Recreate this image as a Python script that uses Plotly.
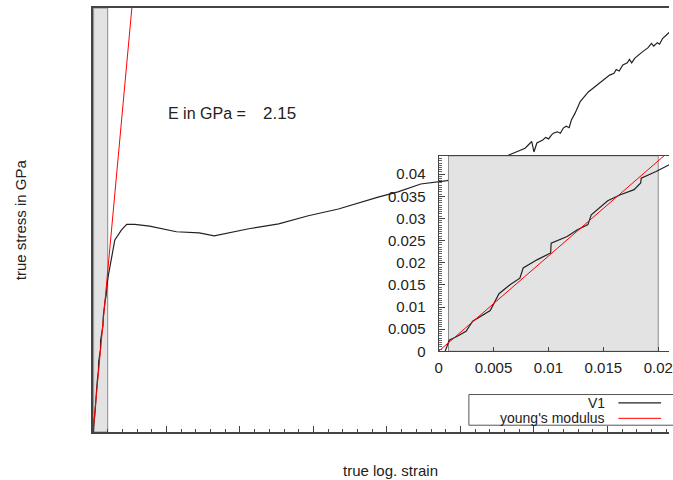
import plotly.graph_objects as go

# ---------------- data ----------------
strain = [0.0006, 0.00097, 0.0017, 0.0025, 0.0031, 0.0038, 0.0047, 0.0055, 0.0065, 0.0074,
          0.0077, 0.0090, 0.0102, 0.01025, 0.0117, 0.0126, 0.0136, 0.0139, 0.0154, 0.0165,
          0.0178, 0.0184, 0.01845, 0.0198, 0.0210,
          0.0297, 0.0388, 0.0459, 0.0568, 0.077, 0.1135, 0.1446, 0.1649, 0.212, 0.2527,
          0.293, 0.334, 0.374, 0.388, 0.415, 0.446, 0.482, 0.523, 0.566, 0.577, 0.588,
          0.597, 0.600, 0.604, 0.612, 0.616, 0.620, 0.624, 0.627, 0.632, 0.636, 0.640,
          0.644, 0.648, 0.651, 0.656, 0.663, 0.674, 0.685, 0.694, 0.703, 0.709, 0.712,
          0.716, 0.721, 0.727, 0.730, 0.733, 0.737, 0.748, 0.755, 0.760, 0.763, 0.768,
          0.771, 0.775, 0.779, 0.784, 0.79]
stress = [0.0, 0.0025, 0.0034, 0.0045, 0.0068, 0.0079, 0.0092, 0.0130, 0.0150, 0.0165,
          0.0188, 0.0207, 0.0222, 0.0244, 0.0259, 0.0274, 0.0286, 0.0308, 0.0340, 0.0353,
          0.0365, 0.0380, 0.0391, 0.0406, 0.0421,
          0.0515, 0.0542, 0.0557, 0.0557, 0.0552, 0.0537, 0.0534, 0.0526, 0.0545, 0.0558,
          0.0580, 0.0598, 0.0622, 0.0630, 0.0644, 0.0665, 0.0674, 0.0703, 0.0743, 0.0752, 0.0761,
          0.0779, 0.0751, 0.0775, 0.0783, 0.0790, 0.0786, 0.0797, 0.0802, 0.0805, 0.0801, 0.0815,
          0.0820, 0.0816, 0.0837, 0.0855, 0.0886, 0.0912, 0.0930, 0.0944, 0.0957, 0.0962, 0.0972,
          0.0968, 0.0984, 0.0990, 0.0999, 0.0990, 0.1002, 0.1020, 0.1030, 0.1042, 0.1035, 0.1044,
          0.1040, 0.1055, 0.1062, 0.1073, 0.1082]

modulus_strain = [0.0, 0.06]
modulus_stress = [0.0, 0.129]
fit_range = [0.0009, 0.02]
E_value = "2.15"

inset_xticks = [0, 0.005, 0.01, 0.015, 0.02]
inset_yticks = [0, 0.005, 0.01, 0.015, 0.02, 0.025, 0.03, 0.035, 0.04]

FONT = "Liberation Sans, Arial, sans-serif"
TXT = "#222222"
AX = "#444444"

fig = go.Figure()

# main plot
fig.add_trace(go.Scatter(x=strain, y=stress, mode="lines", name="V1",
                         line=dict(color="#222222", width=1.2), xaxis="x", yaxis="y",
                         showlegend=False))
fig.add_trace(go.Scatter(x=modulus_strain, y=modulus_stress, mode="lines", name="young's modulus",
                         line=dict(color="#ff0000", width=1), xaxis="x", yaxis="y",
                         showlegend=False))
# inset
fig.add_trace(go.Scatter(x=strain, y=stress, mode="lines", name="V1",
                         line=dict(color="#222222", width=1.2), xaxis="x2", yaxis="y2",
                         showlegend=False))
fig.add_trace(go.Scatter(x=modulus_strain, y=modulus_stress, mode="lines", name="young's modulus",
                         line=dict(color="#ff0000", width=1), xaxis="x2", yaxis="y2",
                         showlegend=False))

# the page body margin is removed in post_script, so the figure starts at (0, 0)
W, H = 673, 480
ML, MR, MT, MB = 93, 0, 8, 480 - 432.5
pw = W - ML - MR
ph = H - MT - MB

def px_x(p):
    return (p - ML) / pw

def px_y(p):
    return (H - MB - p) / ph

shapes = []
# main fit range shading
shapes.append(dict(type="rect", xref="x", yref="y", x0=fit_range[0], x1=fit_range[1],
                   y0=0, y1=0.1137, fillcolor="#e3e3e3", line=dict(color="#8a8a8a", width=1),
                   layer="below"))
# inset fit range shading (opaque, covers main curve)
shapes.append(dict(type="rect", xref="x2", yref="y2", x0=fit_range[0], x1=fit_range[1],
                   y0=0, y1=0.04413, fillcolor="#e3e3e3", line=dict(color="#8a8a8a", width=1),
                   layer="below"))
# legend box
shapes.append(dict(type="rect", xref="paper", yref="paper", x0=px_x(471.5), x1=1.05,
                   y0=px_y(425.7), y1=px_y(395), fillcolor="white",
                   line=dict(color="#555555", width=1), layer="above"))
shapes.append(dict(type="line", xref="paper", yref="paper", x0=px_x(622), x1=px_x(665),
                   y0=px_y(403.3), y1=px_y(403.3), line=dict(color="#222222", width=1.2)))
shapes.append(dict(type="line", xref="paper", yref="paper", x0=px_x(622), x1=px_x(665),
                   y0=px_y(418.8), y1=px_y(418.8), line=dict(color="#ff0000", width=1)))

annotations = [
    dict(text="V1", xref="paper", yref="paper", x=px_x(611), y=px_y(403.3),
         xanchor="right", yanchor="middle", showarrow=False,
         font=dict(family=FONT, size=14, color=TXT)),
    dict(text="young's modulus", xref="paper", yref="paper", x=px_x(611), y=px_y(418.8),
         xanchor="right", yanchor="middle", showarrow=False,
         font=dict(family=FONT, size=14, color=TXT)),
    dict(text="E in GPa =", xref="paper", yref="paper", x=px_x(166.5), y=px_y(114),
         xanchor="left", yanchor="middle", showarrow=False,
         font=dict(family=FONT, size=16, color=TXT)),
    dict(text=E_value, xref="paper", yref="paper", x=px_x(262), y=px_y(114),
         xanchor="left", yanchor="middle", showarrow=False,
         font=dict(family=FONT, size=17, color=TXT)),
    dict(text="true log. strain", xref="paper", yref="paper", x=px_x(393), y=px_y(471),
         xanchor="center", yanchor="middle", showarrow=False,
         font=dict(family=FONT, size=15, color=TXT)),
    dict(text="true stress in GPa", xref="paper", yref="paper", x=px_x(20), y=px_y(220),
         xanchor="center", yanchor="middle", showarrow=False, textangle=-90,
         font=dict(family=FONT, size=15, color=TXT)),
]

fig.update_layout(
    width=W, height=H,
    margin=dict(l=ML, r=MR, t=MT, b=MB, pad=0),
    paper_bgcolor="white", plot_bgcolor="rgba(0,0,0,0)",
    font=dict(family=FONT, size=14, color=TXT),
    showlegend=False,
    xaxis=dict(domain=[0, 1], range=[0, 0.7838], showgrid=False, zeroline=False,
               showline=True, linecolor=AX, linewidth=1.5, mirror=True,
               ticks="inside", ticklen=6, tickcolor=AX, tickwidth=1, dtick=0.1, tick0=0,
               showticklabels=False,
               minor=dict(ticks="inside", ticklen=3, tickcolor=AX, dtick=0.02, showgrid=False)),
    yaxis=dict(domain=[0, 1], range=[0, 0.1137], showgrid=False, zeroline=False,
               showline=True, linecolor=AX, linewidth=1.5, mirror=False,
               ticks="", showticklabels=False),
    xaxis2=dict(domain=[px_x(441), 1], range=[0, 0.02098], anchor="y2",
                showgrid=False, zeroline=False, showline=True, linecolor=AX, linewidth=1.2,
                mirror=True, ticks="inside", ticklen=4, tickcolor=AX,
                tickvals=inset_xticks, ticktext=[str(v) for v in inset_xticks],
                tickfont=dict(family=FONT, size=15, color=TXT), ticklabelstandoff=3,
                ticklabeloverflow="allow"),
    yaxis2=dict(domain=[px_y(351.7), px_y(156)], range=[0, 0.04413], anchor="x2",
                showgrid=False, zeroline=False, showline=True, linecolor=AX, linewidth=1.2,
                mirror=False, ticks="inside", ticklen=6, tickcolor=AX,
                tickvals=inset_yticks, ticktext=[("%g" % v) for v in inset_yticks],
                tickfont=dict(family=FONT, size=15, color=TXT), ticklabelstandoff=9,
                minor=dict(ticks="inside", ticklen=3, tickcolor="#666666", dtick=0.0005,
                           tick0=0, showgrid=False)),
    shapes=shapes,
    annotations=annotations,
)

fig.write_html("out.html", config={"displayModeBar": False},
               post_script="document.body.style.margin='0';document.body.style.overflow='hidden';")
